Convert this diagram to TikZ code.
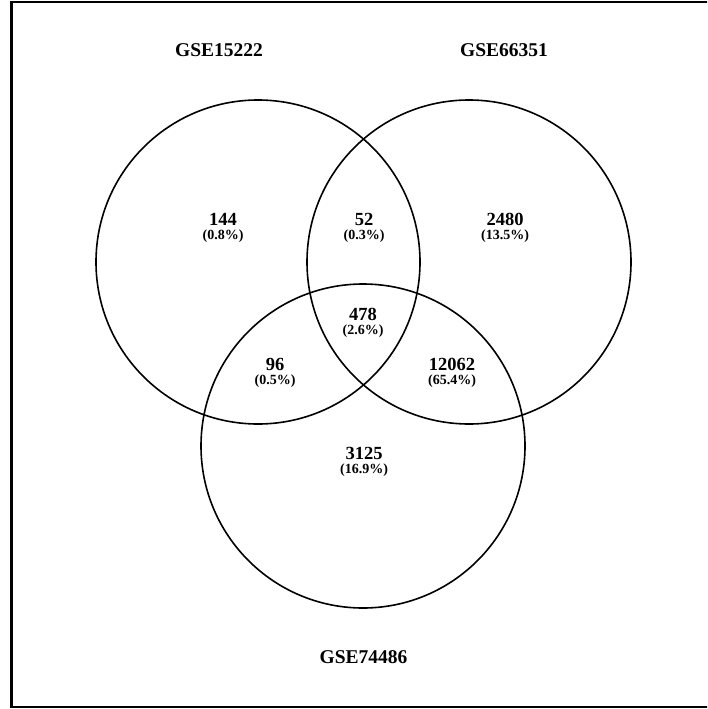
\documentclass[tikz,border=0pt]{standalone}
\usepackage{fontspec}
\setmainfont{Liberation Serif}
\begin{document}
\begin{tikzpicture}[x=1pt,y=-1pt,
  setc/.style={draw=black,line width=1.6pt},
  frame/.style={draw=black,line width=2.6pt},
  setlabel/.style={font=\fontsize{19.5}{22}\selectfont\bfseries,inner sep=0pt},
  count/.style={font=\fontsize{18.5}{21}\selectfont\bfseries,inner sep=0pt},
  pct/.style={font=\fontsize{14}{16}\selectfont\bfseries,inner sep=0pt}]
\useasboundingbox (0,0) rectangle (707,709);
\clip (0,0) rectangle (707,709);
\fill[white] (0,0) rectangle (707,709);
\draw[frame] (11.5,2) rectangle (715,707);
% circles
\draw[setc] (258,262) circle[radius=162];
\draw[setc] (469,262) circle[radius=162];
\draw[setc] (363,446) circle[radius=162];
% set labels
\node[setlabel] (la) at (219,50.5) {GSE15222};
\node[setlabel] (lb) at (504,50.5) {GSE66351};
\node[setlabel] (lc) at (363.5,657.5) {GSE74486};
% region counts
\node[count] (n144) at (223,219.5) {144};
\node[pct] (p144) at (223,236) {(0.8\%)};
\node[count] (n52) at (364,219.5) {52};
\node[pct] (p52) at (364,236) {(0.3\%)};
\node[count] (n2480) at (505,219.5) {2480};
\node[pct] (p2480) at (505,236) {(13.5\%)};
\node[count] (n478) at (363,314.5) {478};
\node[pct] (p478) at (363,331) {(2.6\%)};
\node[count] (n96) at (275,364.5) {96};
\node[pct] (p96) at (275,381) {(0.5\%)};
\node[count] (n12062) at (452,364.5) {12062};
\node[pct] (p12062) at (452,381) {(65.4\%)};
\node[count] (n3125) at (364,453.5) {3125};
\node[pct] (p3125) at (364,470) {(16.9\%)};
\end{tikzpicture}
\end{document}
